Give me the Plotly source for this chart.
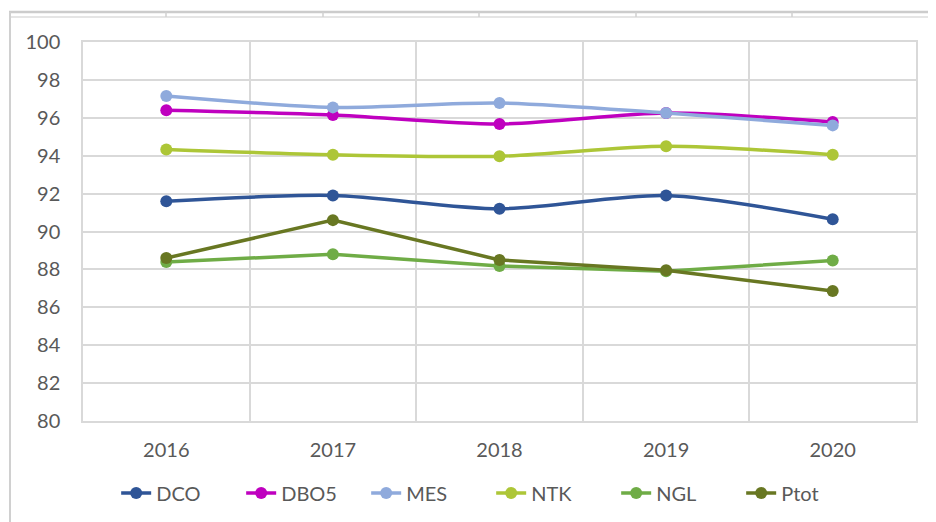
import plotly.graph_objects as go

years = ["2016", "2017", "2018", "2019", "2020"]
dco = [91.6, 91.9, 91.2, 91.9, 90.65]
dbo5 = [96.4, 96.15, 95.67, 96.25, 95.78]
mes = [97.15, 96.55, 96.78, 96.25, 95.6]
ntk = [94.33, 94.05, 93.97, 94.5, 94.05]
ngl = [88.39, 88.8, 88.18, 87.9, 88.47]
ptot = [88.6, 90.6, 88.5, 87.95, 86.86]

series = [
    ("DCO", dco, "#2F5597", "spline"),
    ("DBO5", dbo5, "#BF00BF", "spline"),
    ("MES", mes, "#8FAADC", "spline"),
    ("NTK", ntk, "#ADC637", "spline"),
    ("NGL", ngl, "#6FAC46", "linear"),
    ("Ptot", ptot, "#687722", "linear"),
]

fig = go.Figure()
for name, vals, color, shape in series:
    fig.add_trace(go.Scatter(
        x=years, y=vals, name=name, mode="lines+markers",
        line=dict(color=color, width=3.5, shape=shape, smoothing=0.8),
        marker=dict(color=color, size=12),
    ))

grid = "#D9D9D9"

# page-pixel -> paper helpers for the decorative frame (plot area 83..916 x 42..421)
def px(x):
    return (x - 83) / 833.0

def py(y):
    return (421 - y) / 379.0

frame = "#D0D0D0"
shapes = [
    dict(type="line", xref="paper", yref="paper", x0=px(9), x1=px(940), y0=py(12), y1=py(12),
         line=dict(color="#CCCCCC", width=2.5)),
    dict(type="line", xref="paper", yref="paper", x0=px(10), x1=px(940), y0=py(17), y1=py(17),
         line=dict(color="#DDDDDD", width=1.5)),
    dict(type="line", xref="paper", yref="paper", x0=px(10), x1=px(10), y0=py(12), y1=py(530),
         line=dict(color=frame, width=2)),
    dict(type="line", xref="paper", yref="paper", x0=px(348), x1=px(348), y0=py(0), y1=py(4),
         line=dict(color="#ADC637", width=1.5)),
]
for tx in [166, 323, 479, 636, 792]:
    shapes.append(dict(type="line", xref="paper", yref="paper", x0=px(tx), x1=px(tx),
                       y0=py(12), y1=py(17), line=dict(color="#D0D0D0", width=1.5)))

fig.update_layout(
    width=936, height=522,
    margin=dict(l=75, r=28, t=34, b=109, autoexpand=False),
    paper_bgcolor="white", plot_bgcolor="white",
    font=dict(family="Lato, Open Sans, sans-serif", color="#595959", size=20),
    showlegend=True,
    legend=dict(orientation="h", x=0.49, xanchor="center", y=-0.19, yanchor="middle",
                font=dict(size=20, color="#595959"), entrywidth=80, entrywidthmode="pixels",
                traceorder="normal"),
    xaxis=dict(type="category", range=[-0.5, 4.5], tickson="boundaries",
               showgrid=True, gridcolor=grid, gridwidth=1.5,
               showline=True, linecolor=grid, linewidth=1.5, mirror=True,
               ticks="", tickfont=dict(size=20, color="#595959"), ticklabelstandoff=10),
    yaxis=dict(range=[80, 100], dtick=2, showgrid=True, gridcolor=grid, gridwidth=1.5,
               showline=True, linecolor=grid, linewidth=1.5, mirror=True,
               zeroline=False, ticks="", tickfont=dict(size=20, color="#595959"),
               ticklabelstandoff=17),
    shapes=shapes,
)

fig.write_html("out.html")
